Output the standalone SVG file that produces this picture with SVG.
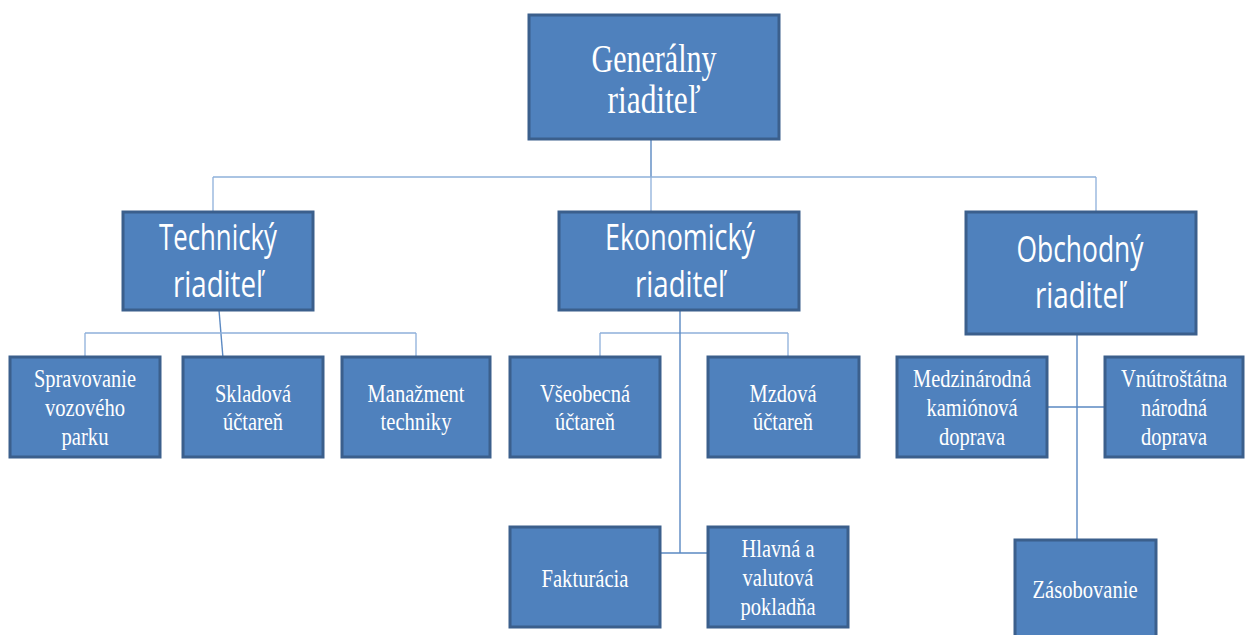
<svg xmlns="http://www.w3.org/2000/svg" width="1245" height="635" viewBox="0 0 1245 635">
<style>
.box{fill:#4f81bd;stroke:#3b5f8c;stroke-width:3}
.ser{font-family:"Liberation Serif","Times New Roman",serif;fill:#ffffff;text-anchor:middle;font-size:25px}
.big{font-size:40px}
.san{font-family:"Open Sans","Liberation Sans",Arial,sans-serif;fill:#ffffff;text-anchor:middle;font-size:36px}
.c{fill:none;stroke:#5b89c2;stroke-width:1.4}
.cl{fill:none;stroke:#8eb0da;stroke-width:1.3}
</style>
<rect width="1245" height="635" fill="#ffffff"/>
<g id="connectors">
<path class="c" d="M651 140V177"/>
<path class="cl" d="M213 177H1096"/>
<path class="cl" d="M213 177V211M651 177V211M1096 177V211"/>
<path class="c" d="M219 310L223 358"/>
<path class="cl" d="M85 333H416M85 333V357M416 333V357"/>
<path class="cl" d="M600 333H788M600 333V357M788 333V357"/>
<path class="c" d="M680 310V553M660 553H708"/>
<path class="c" d="M1077 335V540M1047 407H1105"/>
<path d="M1077 540V613" stroke="#8eb0da" stroke-width="1" opacity="0.6"/>
</g>
<g id="generalny">
<rect class="box" x="529" y="15" width="250" height="124"/>
<text class="ser big" x="654" y="72" textLength="125" lengthAdjust="spacingAndGlyphs">Generálny</text>
<text class="ser big" x="654" y="113" textLength="93" lengthAdjust="spacingAndGlyphs">riaditeľ</text>
</g>
<g id="technicky">
<rect class="box" x="123" y="212" width="190" height="98"/>
<text class="san" x="218" y="250" textLength="118" lengthAdjust="spacingAndGlyphs">Technický</text>
<text class="san" x="218" y="297" textLength="90" lengthAdjust="spacingAndGlyphs">riaditeľ</text>
</g>
<g id="ekonomicky">
<rect class="box" x="559" y="212" width="240" height="98"/>
<text class="san" x="680" y="250" textLength="150" lengthAdjust="spacingAndGlyphs">Ekonomický</text>
<text class="san" x="680" y="297" textLength="90" lengthAdjust="spacingAndGlyphs">riaditeľ</text>
</g>
<g id="obchodny">
<rect class="box" x="966" y="212" width="230" height="122"/>
<text class="san" x="1080" y="262" textLength="127" lengthAdjust="spacingAndGlyphs">Obchodný</text>
<text class="san" x="1080" y="308" textLength="90" lengthAdjust="spacingAndGlyphs">riaditeľ</text>
</g>
<g id="spravovanie">
<rect class="box" x="10" y="357" width="150" height="100"/>
<text class="ser" x="85" y="387" textLength="102" lengthAdjust="spacingAndGlyphs">Spravovanie</text>
<text class="ser" x="85" y="416" textLength="80" lengthAdjust="spacingAndGlyphs">vozového</text>
<text class="ser" x="85" y="445" textLength="47" lengthAdjust="spacingAndGlyphs">parku</text>
</g>
<g id="skladova">
<rect class="box" x="183" y="357" width="140" height="100"/>
<text class="ser" x="253" y="402" textLength="76" lengthAdjust="spacingAndGlyphs">Skladová</text>
<text class="ser" x="253" y="430" textLength="60" lengthAdjust="spacingAndGlyphs">účtareň</text>
</g>
<g id="manazment">
<rect class="box" x="342" y="357" width="148" height="100"/>
<text class="ser" x="416" y="402" textLength="97" lengthAdjust="spacingAndGlyphs">Manažment</text>
<text class="ser" x="416" y="430" textLength="71" lengthAdjust="spacingAndGlyphs">techniky</text>
</g>
<g id="vseobecna">
<rect class="box" x="510" y="357" width="150" height="100"/>
<text class="ser" x="585" y="402" textLength="90" lengthAdjust="spacingAndGlyphs">Všeobecná</text>
<text class="ser" x="585" y="430" textLength="60" lengthAdjust="spacingAndGlyphs">účtareň</text>
</g>
<g id="mzdova">
<rect class="box" x="708" y="357" width="151" height="100"/>
<text class="ser" x="783" y="402" textLength="67" lengthAdjust="spacingAndGlyphs">Mzdová</text>
<text class="ser" x="783" y="430" textLength="60" lengthAdjust="spacingAndGlyphs">účtareň</text>
</g>
<g id="medzinarodna">
<rect class="box" x="897" y="357" width="150" height="100"/>
<text class="ser" x="972" y="387" textLength="118" lengthAdjust="spacingAndGlyphs">Medzinárodná</text>
<text class="ser" x="972" y="416" textLength="91" lengthAdjust="spacingAndGlyphs">kamiónová</text>
<text class="ser" x="972" y="445" textLength="66" lengthAdjust="spacingAndGlyphs">doprava</text>
</g>
<g id="vnutrostatna">
<rect class="box" x="1105" y="357" width="138" height="100"/>
<text class="ser" x="1174" y="387" textLength="106" lengthAdjust="spacingAndGlyphs">Vnútroštátna</text>
<text class="ser" x="1174" y="416" textLength="66" lengthAdjust="spacingAndGlyphs">národná</text>
<text class="ser" x="1174" y="445" textLength="66" lengthAdjust="spacingAndGlyphs">doprava</text>
</g>
<g id="fakturacia">
<rect class="box" x="510" y="527" width="150" height="100"/>
<text class="ser" x="585" y="587" textLength="87" lengthAdjust="spacingAndGlyphs">Fakturácia</text>
</g>
<g id="hlavna">
<rect class="box" x="708" y="527" width="140" height="100"/>
<text class="ser" x="778" y="557" textLength="73" lengthAdjust="spacingAndGlyphs">Hlavná a</text>
<text class="ser" x="778" y="586" textLength="71" lengthAdjust="spacingAndGlyphs">valutová</text>
<text class="ser" x="778" y="615" textLength="75" lengthAdjust="spacingAndGlyphs">pokladňa</text>
</g>
<g id="zasobovanie">
<rect class="box" x="1015" y="540" width="141" height="100"/>
<text class="ser" x="1085" y="598" textLength="105" lengthAdjust="spacingAndGlyphs">Zásobovanie</text>
</g>
</svg>
